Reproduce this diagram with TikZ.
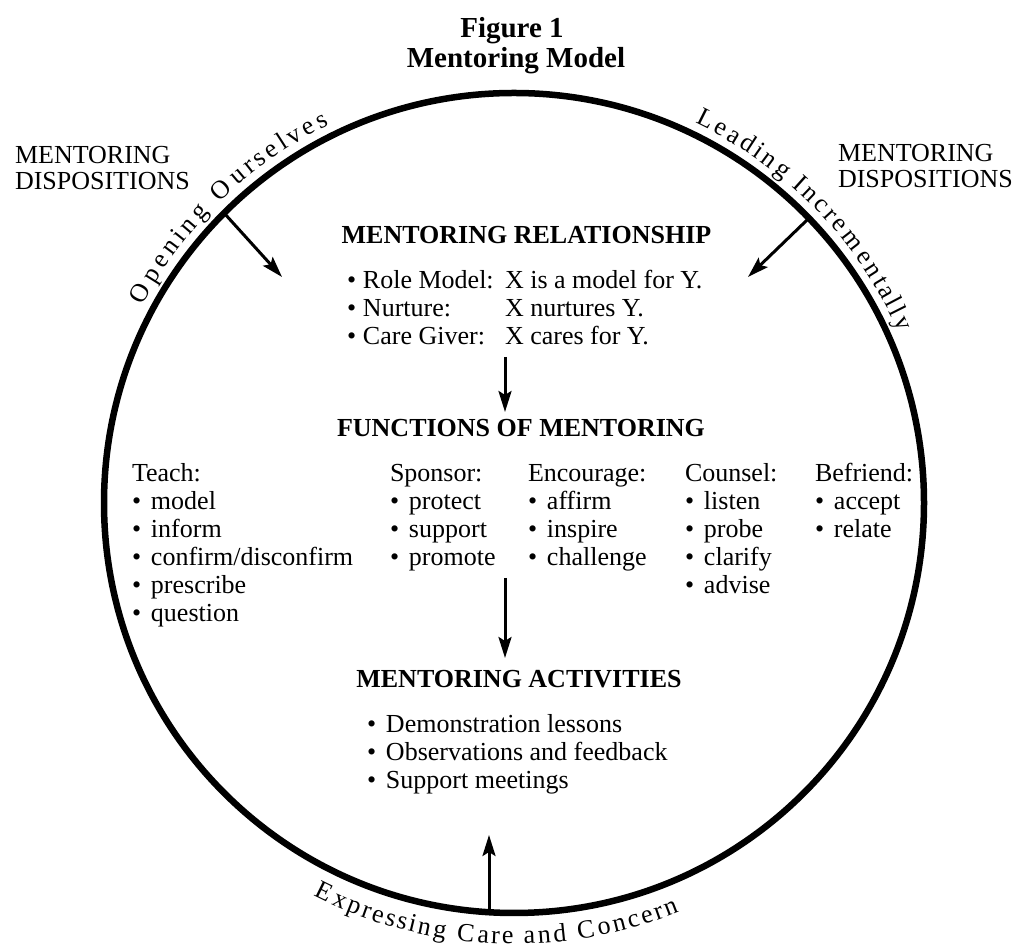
\documentclass[tikz,border=0pt]{standalone}
\usepackage{fontspec}
\setmainfont{Liberation Serif}
\usetikzlibrary{arrows.meta,decorations.text}
\newcommand{\bodyfont}{\fontsize{26}{28}\selectfont}
\newcommand{\dispfont}{\fontsize{26}{26}\selectfont}
\newcommand{\headfont}{\fontsize{26}{28}\selectfont\bfseries}
\newcommand{\titlefont}{\fontsize{29}{33}\selectfont\bfseries}
\newcommand{\arcfont}{\fontsize{26}{28}\selectfont}
\newcommand{\bul}{\makebox[19pt][l]{\textbullet}}
\newcommand{\rbul}{\makebox[16pt][l]{\textbullet}}
\newcommand{\rows}[1]{\begin{tabular}[t]{@{}l@{}}#1\end{tabular}}
\begin{document}
\begin{tikzpicture}[x=1pt,y=1pt,
  every node/.style={inner sep=0pt, outer sep=0pt, font=\bodyfont},
  arr/.style={line width=3pt, -{Stealth[length=21pt,width=13pt,inset=4pt]}},
  head/.style={font=\headfont, anchor=base},
  col/.style={anchor=base west, font=\bodyfont},
  arctext/.style={decorate, decoration={text effects along path, text={#1},
    text effects/.cd, text along path, fit text to path,
    characters={font=\arcfont}}}
]
\useasboundingbox (0,0) rectangle (1022,949);
\node[draw, circle, line width=6.5pt, minimum size=820pt] (ring) at (514,446) {};

% title
\node[font=\titlefont, anchor=base] (fig) at (512,911) {Figure 1};
\node[font=\titlefont, anchor=base] (model) at (516,881) {Mentoring Model};

% dispositions
\node[col, font=\dispfont] (dispL) at (15,785) {\rows{MENTORING\\DISPOSITIONS}};
\node[col, font=\dispfont] (dispR) at (838,787) {\rows{MENTORING\\DISPOSITIONS}};

% relationship
\node[head] (relh) at (526.5,705) {MENTORING RELATIONSHIP};
\node[col] (rel) at (347,660) {\rows{\makebox[158pt][l]{\rbul Role Model:}X is a model for Y.\\
  \makebox[158pt][l]{\rbul Nurture:}X nurtures Y.\\
  \makebox[158pt][l]{\rbul Care Giver:}X cares for Y.}};

% functions
\node[head] (funh) at (521,512.3) {FUNCTIONS OF MENTORING};
\node[col] (teach) at (132,467) {\rows{Teach:\\\bul model\\\bul inform\\\bul confirm/disconfirm\\\bul prescribe\\\bul question}};
\node[col] (sponsor) at (390,467) {\rows{Sponsor:\\\bul protect\\\bul support\\\bul promote}};
\node[col] (encourage) at (528,467) {\rows{Encourage:\\\bul affirm\\\bul inspire\\\bul challenge}};
\node[col] (counsel) at (685,467) {\rows{Counsel:\\\bul listen\\\bul probe\\\bul clarify\\\bul advise}};
\node[col] (befriend) at (815,467) {\rows{Befriend:\\\bul accept\\\bul relate}};

% activities
\node[head] (acth) at (519,261) {MENTORING ACTIVITIES};
\node[col] (act) at (367,216) {\rows{\bul Demonstration lessons\\\bul Observations and feedback\\\bul Support meetings}};

% arrows
\coordinate (a1s) at (505,592);
\coordinate (a1e) at (505,537);
\draw[arr] (a1s) -- (a1e);
\coordinate (a2s) at (505,371);
\coordinate (a2e) at (505,291);
\draw[arr] (a2s) -- (a2e);
\coordinate (lend) at (282,672);
\draw[arr] (ring.135) -- (lend);
\coordinate (rend) at (748,672);
\draw[arr] (ring.44) -- (rend);
\coordinate (bend) at (489,114);
\draw[arr] (bend |- ring.south) -- (bend);

% texts along the circle
\path[arctext={Opening Ourselves}] ([shift={(152:421)}]ring.center) arc[start angle=152, end angle=116, radius=421];
\path[arctext={Leading Incrementally}] ([shift={(64.5:421)}]ring.center) arc[start angle=64.5, end angle=24, radius=421];
\path[arctext={Expressing Care and Concern}] ([shift={(243:441)}]ring.center) arc[start angle=243, end angle=292, radius=441];
\end{tikzpicture}
\end{document}
